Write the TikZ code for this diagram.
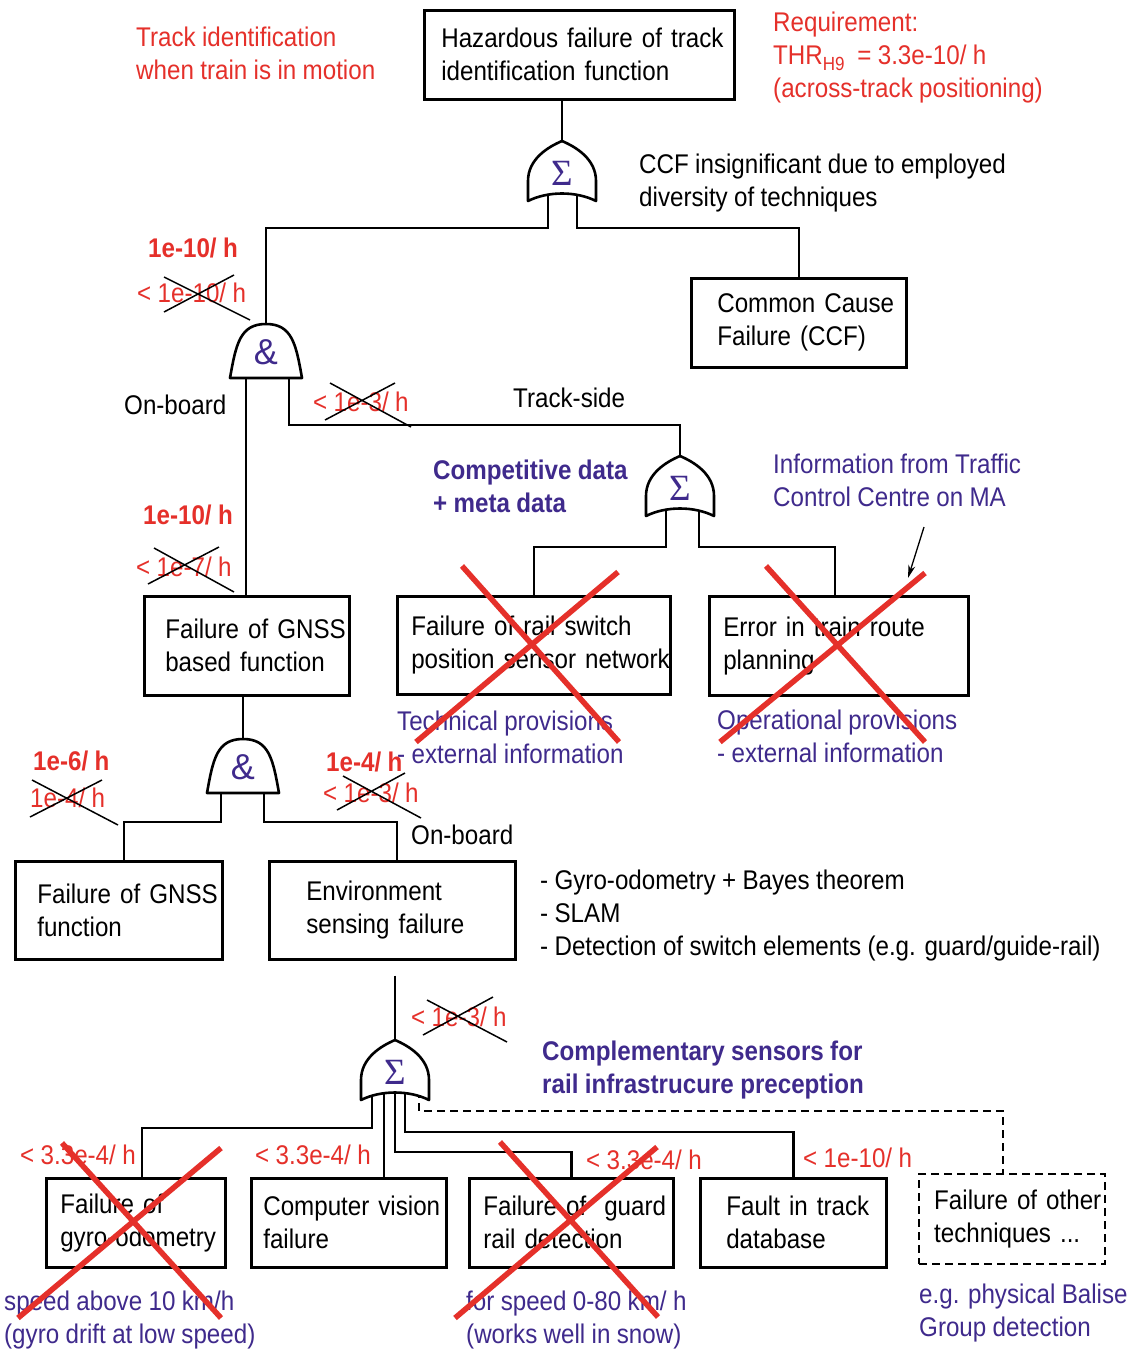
\documentclass[tikz,border=0pt]{standalone}
\usepackage{fontspec}
\setmainfont{Liberation Sans}[FakeStretch=0.895, WordSpace=0.95]
\newfontfamily\sigmafont{Liberation Serif}
\newfontfamily\ampfont{Liberation Sans}
\usetikzlibrary{arrows.meta,calc}
\definecolor{myred}{HTML}{E5302A}
\definecolor{mypurple}{HTML}{3F2A8C}
\pgfdeclarelayer{back}
\pgfdeclarelayer{wires}
\pgfsetlayers{back,wires,main}

\tikzset{
  box/.style={draw, line width=2.6pt, align=left, anchor=north west, inner ysep=0pt},
  wire/.style={line width=2.6pt},
  gate/.style={line width=2.6pt, fill=white, line join=round},
  lbl/.style={anchor=west, align=left, inner sep=0pt},
  blk/.style={lbl, text=black},
  redt/.style={lbl, text=myred},
  redb/.style={lbl, text=myred, font=\fontsize{27}{33}\selectfont\bfseries},
  pur/.style={lbl, text=mypurple},
  purb/.style={lbl, text=mypurple, font=\fontsize{27}{33}\selectfont\bfseries},
  sigma/.style={text=mypurple, inner sep=0pt, font=\sigmafont\fontsize{37}{37}\selectfont},
  amp/.style={text=mypurple, inner sep=0pt, font=\ampfont\fontsize{36}{36}\selectfont},
  xout/.style={line width=1.5pt},
  veto/.style={line width=5.5pt, draw=myred},
  dashline/.style={dash pattern=on 8pt off 5pt},
  pointer/.style={line width=1.3pt, -{Stealth[length=13pt,width=7pt]}},
}

% two lines of box text, kept unbroken
\newcommand\ml[2]{\mbox{#1}\\\mbox{#2}}

% OR gate: name, centre x, y of bottom corners
\newcommand\orgate[3]{%
  \draw[gate] (#2-34,#3) -- (#2-34,#3-20)
    .. controls (#2-34,#3-42) and (#2-14,#3-54) .. (#2,#3-60)
    .. controls (#2+14,#3-54) and (#2+34,#3-42) .. (#2+34,#3-20)
    -- (#2+34,#3) .. controls (#2+14,#3-10) and (#2-14,#3-10) .. cycle;
  \node[sigma] (#1s) at (#2,#3-28) {Σ};
}
% AND gate: name, centre x, y of flat bottom
\newcommand\andgate[3]{%
  \draw[gate] (#2-36,#3) .. controls (#2-30,#3-34) and (#2-26,#3-54) .. (#2,#3-54)
     .. controls (#2+26,#3-54) and (#2+30,#3-34) .. (#2+36,#3) -- cycle;
  \node[amp] (#1s) at (#2,#3-26) {\&};
}

\begin{document}
\begin{tikzpicture}[x=1pt, y=-1pt, font=\fontsize{27}{33}\selectfont]
\useasboundingbox (0,0) rectangle (1132,1349);
\begin{pgfonlayer}{back}
  \fill[white] (0,0) rectangle (1132,1349);
\end{pgfonlayer}

% ---------- events ----------
\node[box, minimum width=310, minimum height=89, text width=276, inner xsep=17] (top) at (423,9) {\ml{Hazardous failure of track}{identification function}};
\node[box, minimum width=215, minimum height=89, text width=163, inner xsep=26] (ccf) at (690,277) {\ml{Common Cause}{Failure (CCF)}};
\node[box, minimum width=205, minimum height=99, text width=163, inner xsep=21] (gnssb) at (143,595) {\ml{Failure of GNSS}{based function}};
\node[box, minimum width=273, minimum height=98, text width=245, inner xsep=14] (rail) at (396,595) {\ml{Failure of rail switch}{position sensor network}};
\node[box, minimum width=259, minimum height=99, text width=231, inner xsep=14] (route) at (708,595) {\ml{Error in train route}{planning}};
\node[box, minimum width=207, minimum height=98, text width=163, inner xsep=22] (gnssf) at (14,860) {\ml{Failure of GNSS}{function}};
\node[box, minimum width=246, minimum height=98, text width=172, inner xsep=37] (env) at (268,860) {\ml{Environment}{sensing failure}};
\node[box, minimum width=179, minimum height=89, text width=151, inner xsep=14] (gyro) at (45,1177) {\ml{Failure of}{gyro-odometry}};
\node[box, minimum width=195, minimum height=89, text width=171, inner xsep=12] (cv) at (250,1177) {\ml{Computer vision}{failure}};
\node[box, minimum width=204, minimum height=89, text width=176, inner xsep=14] (guard) at (468,1177) {\ml{Failure of\ \ guard}{rail detection}};
\node[box, minimum width=186, minimum height=89, text width=134, inner xsep=26] (fault) at (699,1177) {\ml{Fault in track}{database}};
\node[box, dashline, line width=2.4pt, minimum width=186, minimum height=90, text width=156, inner xsep=15] (other) at (918,1173) {\ml{Failure of other}{techniques ...}};

% ---------- gate reference points ----------
\coordinate (g1tip) at (562,141);
\coordinate (g1l) at (548,191);
\coordinate (g1r) at (577,191);
\coordinate (a1tip) at (266,324);
\coordinate (a1l) at (246,378);
\coordinate (a1r) at (289,378);
\coordinate (g2tip) at (680,456);
\coordinate (g2l) at (666,506);
\coordinate (g2r) at (699,506);
\coordinate (a2tip) at (243,739);
\coordinate (a2l) at (221,793);
\coordinate (a2r) at (264,793);
\coordinate (g3tip) at (395,1040);
\coordinate (g3a) at (372,1090);
\coordinate (g3b) at (384,1090);
\coordinate (g3c) at (395,1090);
\coordinate (g3d) at (405,1090);
\coordinate (g3e) at (419,1090);

% ---------- connectors ----------
\begin{pgfonlayer}{wires}
  \draw[wire] (top.south -| g1tip) -- (g1tip);
  \draw[wire] (g1l) -- ++(0,37) -| (a1tip);
  \draw[wire] (g1r) -- ++(0,37) -| (ccf.north);
  \draw[wire] (a1l) -- (a1l |- gnssb.north);
  \draw[wire] (a1r) -- ++(0,47) -| (g2tip);
  \draw[wire] (g2l) -- ++(0,41) -| (rail.north);
  \draw[wire] (g2r) -- ++(0,41) -| ($(route.north west)+(127,0)$);
  \draw[wire] (gnssb.south -| a2tip) -- (a2tip);
  \draw[wire] (a2l) -- ++(0,29) -| ($(gnssf.north west)+(110,0)$);
  \draw[wire] (a2r) -- ++(0,29) -| ($(env.north west)+(129,0)$);
  \draw[wire, shorten <=15pt] (g3tip |- env.south) -- (g3tip);
  \draw[wire] (g3a) -- ++(0,38) -| ($(gyro.north west)+(97,0)$);
  \draw[wire] (g3b) -- (g3b |- cv.north);
  \draw[wire] (g3c) -- ++(0,62) -| (guard.north);
  \draw[wire] (g3d) -- ++(0,42) -| (fault.north);
  \draw[wire, dashline, line width=2.4pt] (g3e) -- ++(0,21) -| ($(other.north west)+(85,0)$);
\end{pgfonlayer}

% ---------- gates ----------
\orgate{g1}{562}{201}
\andgate{a1}{266}{378}
\orgate{g2}{680}{516}
\andgate{a2}{243}{793}
\orgate{g3}{395}{1100}

% ---------- annotations ----------
\node[redt] (tkid) at (136,53) {Track identification\\when train is in motion};
\node[redt] (req) at (773,58) {Requirement:\\THR\raisebox{-6pt}{\fontsize{19}{19}\selectfont H9}\ \ = 3.3e-10/ h\\(across-track positioning)};
\node[blk] (ccfnote) at (639,183) {CCF insignificant due to employed\\diversity of techniques};
\node[redb] (r1) at (148,248) {1e-10/ h};
\node[redt] (r2) at (137,293) {< 1e-10/ h};
\node[blk] (onb1) at (124,405) {On-board};
\node[redt] (r3) at (313,402) {< 1e-3/ h};
\node[blk] (trk) at (513,398) {Track-side};
\node[purb] (comp) at (433,486) {Competitive data\\+ meta data};
\node[pur] (info) at (773,480) {Information from Traffic\\Control Centre on MA};
\node[redb] (r4) at (143,515) {1e-10/ h};
\node[redt] (r5) at (136,567) {< 1e-7/ h};
\node[pur] (tech) at (397,737) {Technical provisions\\- external information};
\node[pur] (oper) at (717,736) {Operational provisions\\- external information};
\node[redb] (r6) at (33,761) {1e-6/ h};
\node[redt] (r7) at (30,798) {1e-4/ h};
\node[redb] (r8) at (326,762) {1e-4/ h};
\node[redt] (r9) at (323,793) {< 1e-3/ h};
\node[blk] (onb2) at (411,835) {On-board};
\node[blk] (list) at (540,916) {- Gyro-odometry + Bayes theorem\\- SLAM\\- Detection of switch elements (e.g. guard/guide-rail)};
\node[redt] (r10) at (411,1017) {< 1e-3/ h};
\node[purb] (compl) at (542,1070) {Complementary sensors for\\rail infrastrucure preception};
\node[redt] (r11) at (20,1155) {< 3.3e-4/ h};
\node[redt] (r12) at (255,1155) {< 3.3e-4/ h};
\node[redt] (r13) at (586,1160) {< 3.3e-4/ h};
\node[redt] (r14) at (803,1158) {< 1e-10/ h};
\node[pur] (spd1) at (4,1320) {speed above 10 km/h\\(gyro drift at low speed)};
\node[pur] (spd2) at (466,1320) {for speed 0-80 km/ h\\(works well in snow)};
\node[pur] (eg) at (919,1313) {e.g. physical Balise\\Group detection};

% pointer to the route-planning event
\coordinate (infoS) at (924,527);
\coordinate (infoE) at (908,578);
\draw[pointer] (infoS) -- (infoE);

% ---------- superseded rates (thin black crosses) ----------
\draw[xout] (164,277) -- (250,320) (164,312) -- (234,275);
\draw[xout] (330,383) -- (411,427) (325,420) -- (395,383);
\draw[xout] (154,548) -- (234,592) (148,584) -- (219,547);
\draw[xout] (32,780) -- (118,825) (30,817) -- (102,780);
\draw[xout] (343,776) -- (421,818) (337,810) -- (405,773);
\draw[xout] (427,1000) -- (507,1042) (423,1035) -- (493,997);

% ---------- excluded branches (red crosses) ----------
\draw[veto] (462,566) -- (619,742) (416,742) -- (618,572);
\draw[veto] (766,566) -- (925,742) (720,742) -- (925,573);
\draw[veto] (62,1143) -- (221,1318) (18,1318) -- (221,1148);
\draw[veto] (500,1142) -- (658,1317) (455,1318) -- (657,1147);
\end{tikzpicture}
\end{document}
